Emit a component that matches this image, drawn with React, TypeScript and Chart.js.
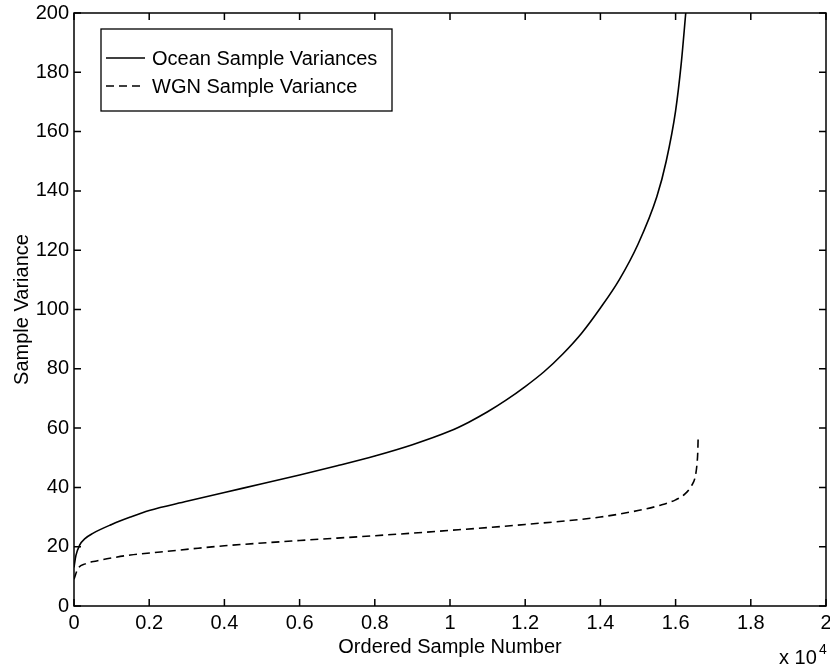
import React, { useEffect, useRef } from "react";
import { Chart, registerables } from "chart.js";

Chart.register(...registerables);

// x values in units of 10^4 samples
const oceanX = [0, 0.005, 0.015, 0.03, 0.05, 0.1, 0.15, 0.2, 0.3, 0.4, 0.5, 0.6, 0.7, 0.8, 0.9, 1.0, 1.05, 1.1, 1.15, 1.2, 1.25, 1.3, 1.35, 1.4, 1.45, 1.5, 1.55, 1.575, 1.6, 1.615, 1.627];
const oceanY = [13, 17, 20.5, 22.8, 24.5, 27.5, 30, 32.2, 35.3, 38.3, 41.2, 44.2, 47.3, 50.6, 54.4, 59, 62, 65.5, 69.5, 74, 79, 85, 92, 100.5, 110, 122, 138, 150, 167, 183, 200];

const wgnX = [0, 0.01, 0.03, 0.06, 0.1, 0.15, 0.23, 0.33, 0.4, 0.6, 0.8, 1.0, 1.2, 1.4, 1.5, 1.56, 1.6, 1.625, 1.642, 1.652, 1.657, 1.659, 1.66];
const wgnY = [9, 12.5, 14.2, 15.2, 16.2, 17.2, 18.2, 19.5, 20.3, 22.1, 23.7, 25.5, 27.5, 30, 32.2, 34, 35.8, 37.8, 40.5, 43.5, 48, 52, 57];

const seriesLabels = ["Ocean Sample Variances", "WGN Sample Variance"];
const xTitle = "Ordered Sample Number";
const yTitle = "Sample Variance";

const FONT = "'Liberation Sans', Arial, Helvetica, sans-serif";

const framePlugin = {
  id: "frame",
  afterDraw(chart: any) {
    const { ctx, chartArea } = chart;
    const { left, right, top, bottom } = chartArea;
    const xs = chart.scales.x;
    const ys = chart.scales.y;
    ctx.save();
    ctx.strokeStyle = "#000";
    ctx.lineWidth = 1.5;
    ctx.setLineDash([]);
    ctx.strokeRect(left, top, right - left, bottom - top);
    const tl = 7;
    ctx.beginPath();
    xs.ticks.forEach((t: any) => {
      const px = xs.getPixelForValue(t.value);
      ctx.moveTo(px, bottom);
      ctx.lineTo(px, bottom - tl);
      ctx.moveTo(px, top);
      ctx.lineTo(px, top + tl);
    });
    ys.ticks.forEach((t: any) => {
      const py = ys.getPixelForValue(t.value);
      ctx.moveTo(left, py);
      ctx.lineTo(left + tl, py);
      ctx.moveTo(right, py);
      ctx.lineTo(right - tl, py);
    });
    ctx.stroke();

    // legend
    const lx = 101, ly = 29, lw = 291, lh = 82;
    ctx.fillStyle = "#fff";
    ctx.fillRect(lx, ly, lw, lh);
    ctx.lineWidth = 1.3;
    ctx.strokeRect(lx, ly, lw, lh);
    const rows = [58, 86];
    chart.data.datasets.forEach((ds: any, i: number) => {
      const y = rows[i];
      ctx.beginPath();
      ctx.lineWidth = 1.5;
      ctx.setLineDash(ds.borderDash || []);
      ctx.moveTo(106, y);
      ctx.lineTo(145, y);
      ctx.stroke();
      ctx.setLineDash([]);
      ctx.fillStyle = "#000";
      ctx.font = `20px ${FONT}`;
      ctx.textAlign = "left";
      ctx.textBaseline = "middle";
      ctx.fillText(ds.label, 152, y + 1);
    });

    // exponent label
    ctx.fillStyle = "#000";
    ctx.font = `20px ${FONT}`;
    ctx.textAlign = "left";
    ctx.textBaseline = "alphabetic";
    ctx.fillText("x 10", 779, 664);
    ctx.font = `14px ${FONT}`;
    ctx.fillText("4", 819, 654);
    ctx.restore();
  },
};

export default function App() {
  const ref = useRef<HTMLCanvasElement>(null);
  useEffect(() => {
    if (!ref.current) return;
    const chart = new Chart(ref.current, {
      type: "line",
      data: {
        datasets: [
          {
            label: seriesLabels[0],
            data: oceanX.map((x, i) => ({ x, y: oceanY[i] })),
            borderColor: "#000",
            borderWidth: 1.6,
            pointRadius: 0,
            fill: false,
            cubicInterpolationMode: "monotone",
          },
          {
            label: seriesLabels[1],
            data: wgnX.map((x, i) => ({ x, y: wgnY[i] })),
            borderColor: "#000",
            borderWidth: 1.6,
            borderDash: [8, 5],
            pointRadius: 0,
            fill: false,
            cubicInterpolationMode: "monotone",
          },
        ],
      },
      options: {
        responsive: false,
        animation: false,
        layout: { padding: { top: 13, right: 4, left: 0, bottom: 0 } },
        plugins: { legend: { display: false }, tooltip: { enabled: false } },
        scales: {
          x: {
            type: "linear",
            min: 0,
            max: 2,
            grid: { display: false, drawTicks: false },
            border: { display: false },
            ticks: {
              stepSize: 0.2,
              color: "#000",
              padding: 5,
              maxRotation: 0,
              autoSkip: false,
              font: { family: FONT, size: 20 },
              callback: (v: any) => String(Number(Number(v).toFixed(1))),
            },
            title: {
              display: true,
              text: xTitle,
              color: "#000",
              font: { family: FONT, size: 20 },
              padding: { top: 0, bottom: 11 },
            },
            afterFit: (s: any) => {
              s.height = 64;
              s.paddingLeft = 0;
              s.paddingRight = 0;
            },
          },
          y: {
            min: 0,
            max: 200,
            grid: { display: false, drawTicks: false },
            border: { display: false },
            ticks: {
              stepSize: 20,
              color: "#000",
              padding: 5,
              autoSkip: false,
              font: { family: FONT, size: 20 },
            },
            title: {
              display: true,
              text: yTitle,
              color: "#000",
              font: { family: FONT, size: 20 },
              padding: { top: 10, bottom: 0 },
            },
            afterFit: (s: any) => {
              s.width = 74;
              s.paddingTop = 0;
              s.paddingBottom = 0;
            },
          },
        },
      },
      plugins: [framePlugin],
    });
    return () => chart.destroy();
  }, []);
  return (
    <div style={{ position: "absolute", left: 0, top: 0, width: 830, height: 670, background: "#fff" }}>
      <canvas ref={ref} width={830} height={670} style={{ display: "block" }} />
    </div>
  );
}
